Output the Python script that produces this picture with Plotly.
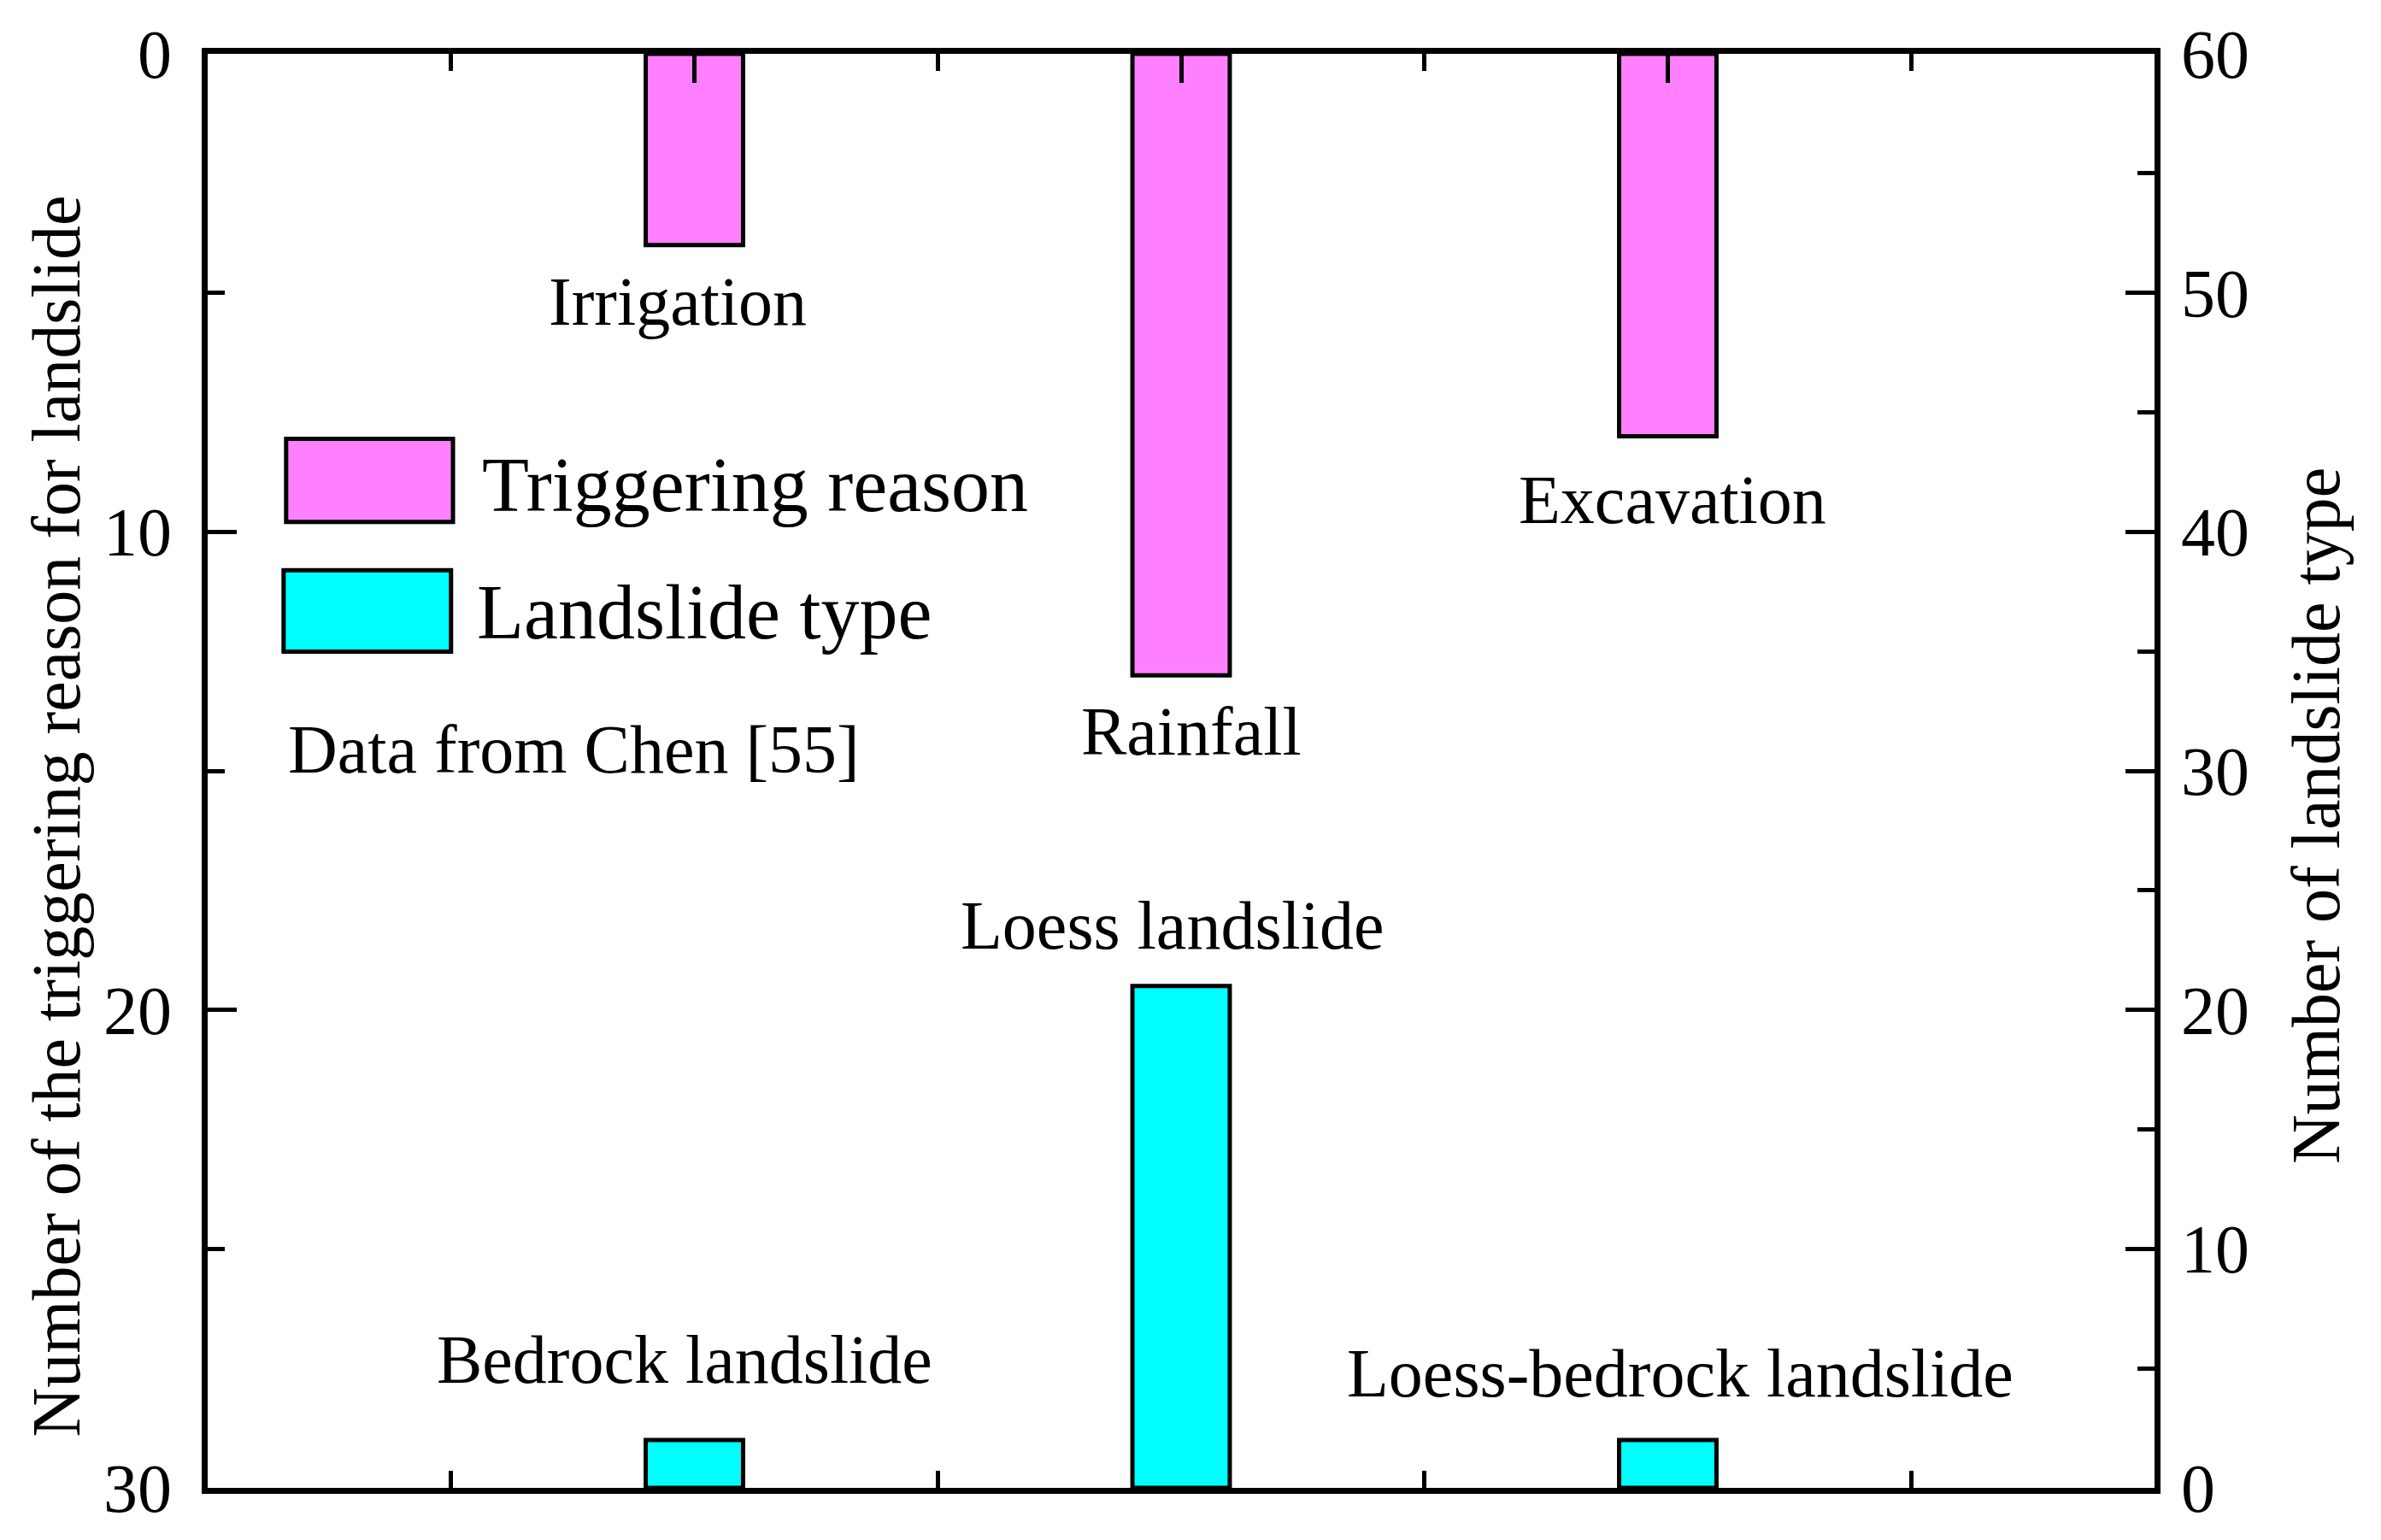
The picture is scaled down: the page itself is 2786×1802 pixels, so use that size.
import plotly.graph_objects as go

# Data
trigger_labels = ["Irrigation", "Rainfall", "Excavation"]
trigger_counts = [4, 13, 8]
type_labels = ["Bedrock landslide", "Loess landslide", "Loess-bedrock landslide"]
type_counts = [2, 21, 2]
positions = [1, 2, 3]
left_ticks = [0, 10, 20, 30]
right_ticks = [0, 10, 20, 30, 40, 50, 60]

PINK = "#FF80FF"
CYAN = "#00FFFF"
FONT = "Liberation Serif"

fig = go.Figure()
fig.add_trace(go.Bar(x=positions, y=trigger_counts, width=0.2, base=0,
                     marker=dict(color=PINK, line=dict(color="black", width=5)),
                     name="Triggering reason", yaxis="y", xaxis="x", showlegend=False))
fig.add_trace(go.Bar(x=positions, y=type_counts, width=0.2, base=0,
                     marker=dict(color=CYAN, line=dict(color="black", width=5)),
                     name="Landslide type", yaxis="y2", xaxis="x", showlegend=False))

axis_common = dict(showline=True, linecolor="black", linewidth=7, ticks="inside",
                   tickcolor="black", tickwidth=5, showgrid=False, zeroline=False)

fig.update_layout(
    width=2786, height=1802,
    margin=dict(l=235, r=273, t=48, b=69),
    paper_bgcolor="white", plot_bgcolor="white",
    barmode="overlay",
    font=dict(family=FONT, size=80, color="black"),
    xaxis=dict(range=[0, 4], tickvals=[0.5, 1.5, 2.5, 3.5], ticklen=20,
               showticklabels=False, **axis_common),
    xaxis2=dict(range=[0, 4], overlaying="x", side="top", anchor="y",
                tickvals=positions, ticklen=34, showticklabels=False,
                minor=dict(tickvals=[0.5, 1.5, 2.5, 3.5], ticklen=20, ticks="inside",
                           tickwidth=5, tickcolor="black"),
                **axis_common),
    yaxis=dict(range=[30, 0], tickvals=left_ticks, ticklen=34,
               minor=dict(dtick=5, tick0=0, ticklen=20, ticks="inside", tickwidth=5,
                          tickcolor="black"),
               ticklabelstandoff=19, ticklabeloverflow="allow",
               tickfont=dict(size=80), **axis_common),
    yaxis2=dict(range=[0, 60], tickvals=right_ticks, ticklen=34, side="right",
                overlaying="y", anchor="x",
                minor=dict(dtick=5, tick0=0, ticklen=20, ticks="inside", tickwidth=5,
                           tickcolor="black"),
                ticklabelstandoff=8, ticklabeloverflow="allow",
                tickfont=dict(size=80), **axis_common),
)
# invisible trace to activate the top axis
fig.add_trace(go.Scatter(x=[0, 4], y=[0, 0], xaxis="x2", yaxis="y", mode="none",
                         showlegend=False, hoverinfo="skip"))

# Category labels
trig_shift = [(-20, -66), (12, -66), (5, -75)]
for lab, pos, val, (dx, dy) in zip(trigger_labels, positions, trigger_counts, trig_shift):
    fig.add_annotation(x=pos, y=val, xref="x", yref="y", text=lab, showarrow=False,
                       xshift=dx, yshift=dy, yanchor="middle", xanchor="center",
                       font=dict(size=80, family=FONT))
type_shift = [(-12, 94), (-11, 71), (14, 78)]
for lab, pos, val, (dx, dy) in zip(type_labels, positions, type_counts, type_shift):
    fig.add_annotation(x=pos, y=val, xref="x", yref="y2", text=lab, showarrow=False,
                       xshift=dx, yshift=dy, yanchor="middle", xanchor="center",
                       font=dict(size=80, family=FONT))

# Manual legend
fig.add_shape(type="rect", xref="paper", yref="paper", x0=0.0403, x1=0.126,
              y0=0.6736, y1=0.7315, fillcolor=PINK, line=dict(color="black", width=5))
fig.add_shape(type="rect", xref="paper", yref="paper", x0=0.039, x1=0.125,
              y0=0.5831, y1=0.6399, fillcolor=CYAN, line=dict(color="black", width=5))
fig.add_annotation(x=0.14, y=0.6996, xref="paper", yref="paper", text="Triggering reason",
                   showarrow=False, xanchor="left", yanchor="middle",
                   font=dict(size=90, family=FONT))
fig.add_annotation(x=0.1374, y=0.6103, xref="paper", yref="paper", text="Landslide type",
                   showarrow=False, xanchor="left", yanchor="middle",
                   font=dict(size=90, family=FONT))
fig.add_annotation(x=0.0403, y=0.515, xref="paper", yref="paper", text="Data from Chen [55]",
                   showarrow=False, xanchor="left", yanchor="middle",
                   font=dict(size=80, family=FONT))

# Axis titles
fig.add_annotation(x=-0.0775, y=0.4684, xref="paper", yref="paper",
                   text="Number of the triggering reason for landslide", textangle=-90,
                   showarrow=False, xanchor="center", yanchor="middle",
                   font=dict(size=80, family=FONT))
fig.add_annotation(x=1.083, y=0.4684, xref="paper", yref="paper",
                   text="Number of landslide type", textangle=-90,
                   showarrow=False, xanchor="center", yanchor="middle",
                   font=dict(size=80, family=FONT))

fig.write_html("out.html")
